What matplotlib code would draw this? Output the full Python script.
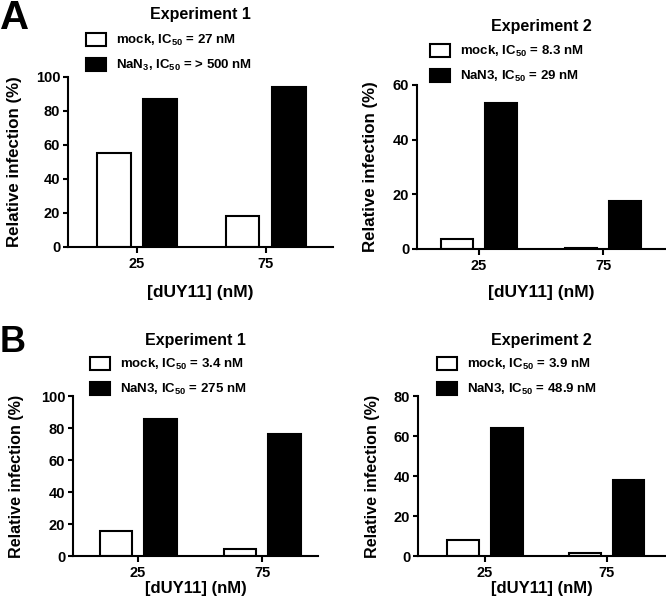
import matplotlib
matplotlib.use("Agg")
import matplotlib.pyplot as plt
import matplotlib.transforms as mtransforms

matplotlib.rcParams.update(
    {
        "font.family": "Liberation Sans",
        "font.weight": "bold",
        "axes.labelweight": "bold",
        "mathtext.fontset": "custom",
        "mathtext.bf": "Liberation Sans:bold",
        "mathtext.rm": "Liberation Sans:bold",
        "mathtext.default": "bf",
        "axes.linewidth": 1.5,
    }
)

W, H = 666, 607
doses = ["25", "75"]

# panel A
a1_mock = [55, 18]
a1_nan3 = [87, 94]
a2_mock = [3.7, 0.3]
a2_nan3 = [53.5, 17.7]
# panel B
b1_mock = [15.6, 4.4]
b1_nan3 = [85.4, 76.2]
b2_mock = [8, 1.6]
b2_nan3 = [63.8, 38]

a1_labels = [r"mock, IC$_{50}$ = 27 nM", r"NaN$_3$, IC$_{50}$ = > 500 nM"]
a2_labels = [r"mock, IC$_{50}$ = 8.3 nM", r"NaN3, IC$_{50}$ = 29 nM"]
b1_labels = [r"mock, IC$_{50}$ = 3.4 nM", r"NaN3, IC$_{50}$ = 275 nM"]
b2_labels = [r"mock, IC$_{50}$ = 3.9 nM", r"NaN3, IC$_{50}$ = 48.9 nM"]

fig = plt.figure(figsize=(W / 100, H / 100), dpi=100)
px = mtransforms.Affine2D().scale(1 / W, -1 / H).translate(0, 1) + fig.transFigure


def panel(box, mock, nan3, labels, title, ymax, yticks, xlim, title_y, leg_xy,
          ylab_x, xlab_y, lab_size, xlab_size):
    left, top, right, bottom = box
    ax = fig.add_axes([left / W, 1 - bottom / H, (right - left) / W, (bottom - top) / H])
    x = range(len(doses))
    w = 0.26
    ax.bar([i - 0.18 for i in x], mock, w, color="white", edgecolor="black",
           linewidth=1.5, label=labels[0], zorder=2)
    ax.bar([i + 0.18 for i in x], nan3, w, color="black", edgecolor="black",
           linewidth=1.5, label=labels[1], zorder=2)
    ax.set_ylim(0, ymax)
    ax.set_xlim(*xlim)
    ax.set_yticks(yticks)
    ax.set_xticks(list(x))
    ax.set_xticklabels(doses)
    ax.tick_params(labelsize=10.5, width=1.5, length=3.5, pad=2)
    ax.tick_params(axis="x", length=4.5, pad=2.5)
    for s in ["top", "right"]:
        ax.spines[s].set_visible(False)
    ax.set_ylabel("Relative infection (%)", fontsize=lab_size, va="center")
    ax.yaxis.set_label_coords(ylab_x, (top + bottom) / 2, transform=px)
    ax.set_xlabel("[dUY11] (nM)", fontsize=xlab_size, va="center")
    ax.xaxis.set_label_coords((left + right) / 2, xlab_y, transform=px)
    fig.text((left + right) / 2, title_y, title, transform=px, ha="center",
             va="center", fontsize=11.5)
    ax.legend(loc="upper left", bbox_to_anchor=leg_xy, bbox_transform=px,
              frameon=False, fontsize=9.5, borderpad=0, borderaxespad=0,
              handlelength=1.55, handleheight=1.15, labelspacing=0.75,
              handletextpad=0.7)
    return ax


panel((68, 77, 333, 247), a1_mock, a1_nan3, a1_labels, "Experiment 1", 100,
      [0, 20, 40, 60, 80, 100], (-0.535, 1.52), 15, (86, 33), 15, 292, 12.2, 12.5)
panel((417, 85, 665, 249), a2_mock, a2_nan3, a2_labels, "Experiment 2", 60,
      [0, 20, 40, 60], (-0.5, 1.5), 27, (430, 44), 371, 292, 12.2, 12.5)
panel((73, 396, 318, 556), b1_mock, b1_nan3, b1_labels, "Experiment 1", 100,
      [0, 20, 40, 60, 80, 100], (-0.524, 1.45), 340, (90, 357), 17, 589, 11.6, 12)
panel((418, 396, 665, 556), b2_mock, b2_nan3, b2_labels, "Experiment 2", 80,
      [0, 20, 40, 60, 80], (-0.55, 1.48), 340, (437, 357), 373, 589, 11.6, 12)

fig.text(0, 29, "A", transform=px, fontsize=29, va="baseline", ha="left")
fig.text(0, 352, "B", transform=px, fontsize=26, va="baseline", ha="left")

fig.savefig("out.png", dpi=100)
